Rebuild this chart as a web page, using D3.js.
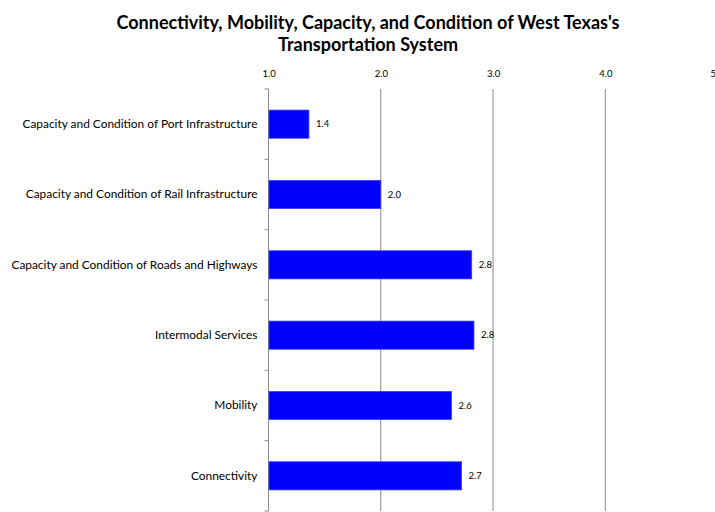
<!DOCTYPE html>
<html><head><meta charset="utf-8">
<script src="https://cdn.jsdelivr.net/npm/d3@7"></script>
<style>body{margin:0;background:#fff}svg{display:block}</style>
</head><body>
<script>
const categories = ["Capacity and Condition of Port Infrastructure","Capacity and Condition of Rail Infrastructure","Capacity and Condition of Roads and Highways","Intermodal Services","Mobility","Connectivity"];
const values = [1.36, 2.0, 2.81, 2.83, 2.63, 2.72];
const valueLabels = ["1.4","2.0","2.8","2.8","2.6","2.7"];
const tickValues = [1,2,3,4,5];
const tickLabels = ["1.0","2.0","3.0","4.0","5"];
const titleLines = ["Connectivity, Mobility, Capacity, and Condition of West Texas's","Transportation System"];

const W=715,H=512;
const m={top:89,left:268.5};
const svg=d3.select("body").append("svg").attr("width",W).attr("height",H);
const x=d3.scaleLinear().domain([1,5]).range([m.left,717.6]);
const y=d3.scaleBand().domain(categories).range([m.top,511]).paddingInner(0.6).paddingOuter(0.3);

svg.selectAll("text.title").data(titleLines).join("text").attr("class","title")
 .attr("x",368).attr("y",(d,i)=>29+i*22).attr("text-anchor","middle")
 .attr("font-family","Lato, sans-serif").attr("font-weight","bold").attr("font-size",18).attr("fill","#000").text(d=>d);

// grid lines
svg.append("g").selectAll("line").data(tickValues.slice(1)).join("line")
 .attr("x1",d=>x(d)).attr("x2",d=>x(d)).attr("y1",m.top).attr("y2",511)
 .attr("stroke","#8c8c8c").attr("stroke-width",1);

// top axis labels
const xAxis=d3.axisTop(x).tickValues(tickValues).tickFormat((d,i)=>tickLabels[i]).tickSize(0).tickPadding(0);
const gx=svg.append("g").attr("transform","translate(0,77)").call(xAxis);
gx.select(".domain").remove();
gx.selectAll("text").attr("font-family","Lato, sans-serif").attr("font-size",9.5).attr("fill","#000")
 .attr("text-anchor",(d,i)=>i===tickValues.length-1?"end":"middle")
 .attr("dx",(d,i)=>i===tickValues.length-1?"-2":"0");

// left axis
const yEdges=d3.scaleLinear().domain([0,categories.length]).range([m.top,511]);
svg.append("line").attr("x1",m.left).attr("x2",m.left).attr("y1",m.top).attr("y2",511).attr("stroke","#8c8c8c");
svg.append("g").selectAll("line").data(d3.range(categories.length+1)).join("line")
 .attr("x1",m.left-4).attr("x2",m.left).attr("y1",d=>yEdges(d)).attr("y2",d=>yEdges(d)).attr("stroke","#8c8c8c");

const yAxis=d3.axisLeft(y).tickSize(0).tickPadding(11);
const gy=svg.append("g").attr("transform",`translate(${m.left},0)`).call(yAxis);
gy.select(".domain").remove();
gy.selectAll("text").attr("font-family","Lato, sans-serif").attr("font-size",11.9).attr("fill","#000");

// bars
svg.append("g").selectAll("rect").data(values).join("rect")
 .attr("x",x(1)+0.5).attr("y",(d,i)=>y(categories[i]))
 .attr("width",d=>x(d)-x(1)-0.5).attr("height",y.bandwidth())
 .attr("fill","#0000ff").attr("stroke","#3c3cff").attr("stroke-width",0.8);

svg.append("g").selectAll("text").data(values).join("text")
 .attr("x",d=>x(d)+7).attr("y",(d,i)=>y(categories[i])+y.bandwidth()/2).attr("dy","0.35em")
 .attr("font-family","Lato, sans-serif").attr("font-size",9.5).attr("fill","#000")
 .text((d,i)=>valueLabels[i]);
</script>
</body></html>
